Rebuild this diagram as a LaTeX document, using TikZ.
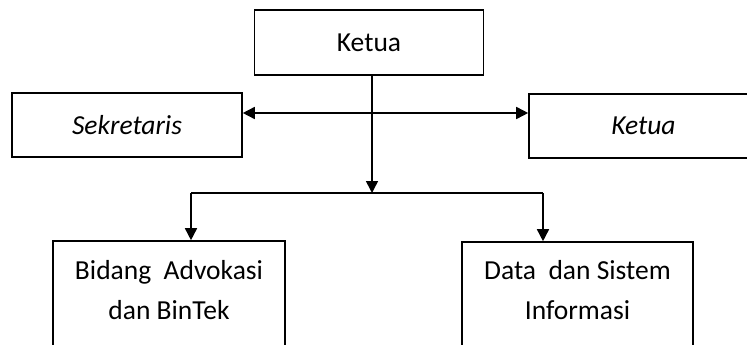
\documentclass[tikz,border=0pt]{standalone}
\usepackage{fontspec}
\setmainfont{Carlito}
\usetikzlibrary{arrows.meta,calc}
\begin{document}
\begin{tikzpicture}[x=1pt,y=-1pt,
  box/.style={draw=black, line width=1.6pt, rectangle, inner sep=0pt,
    align=center, font=\fontsize{27.5}{40}\selectfont},
  lbl/.style={inner sep=0pt, align=center, font=\fontsize{27.5}{40}\selectfont},
  link/.style={draw=black, line width=1.6pt},
  tip/.style={-{Triangle[length=12pt,width=12pt]}},
  tips/.style={{Triangle[length=12pt,width=12pt]}-{Triangle[length=12pt,width=12pt]}}]
\useasboundingbox (0,0) rectangle (747,345);
\clip (0,0) rectangle (747,345);

% upper boxes
\node[box, minimum width=229pt, minimum height=65pt] (top) at (369,42.5) {Ketua};
\node[box, minimum width=230pt, minimum height=64pt] (sek) at (127,125) {\itshape Sekretaris};
\node[box, minimum width=229pt, minimum height=64pt] (ket) at (643.5,126) {\itshape Ketua};

% lower boxes run past the bottom edge; their labels sit in the visible part
\node[box, minimum width=232pt, minimum height=112pt] (bidbox) at (169,297) {};
\node[lbl] (bid) at (169,290) {Bidang~ Advokasi\\dan BinTek};
\node[box, minimum width=231pt, minimum height=111pt] (datbox) at (577.5,297.5) {};
\node[lbl] (dat) at (577.5,290) {Data~ dan Sistem\\Informasi};

% junction points
\coordinate (h) at (372,113);
\coordinate (j) at (372,193);
\coordinate (bl) at (191,193);
\coordinate (br) at (543,193);

% connectors
\draw[link, tip] (top.south -| j) -- (j);
\draw[link, tips] (h -| sek.east) -- (h -| ket.west);
\draw[link] (bl) -- (br);
\draw[link, tip] (bl) -- (bl |- bidbox.north);
\draw[link, tip] (br) -- (br |- datbox.north);
\end{tikzpicture}
\end{document}
